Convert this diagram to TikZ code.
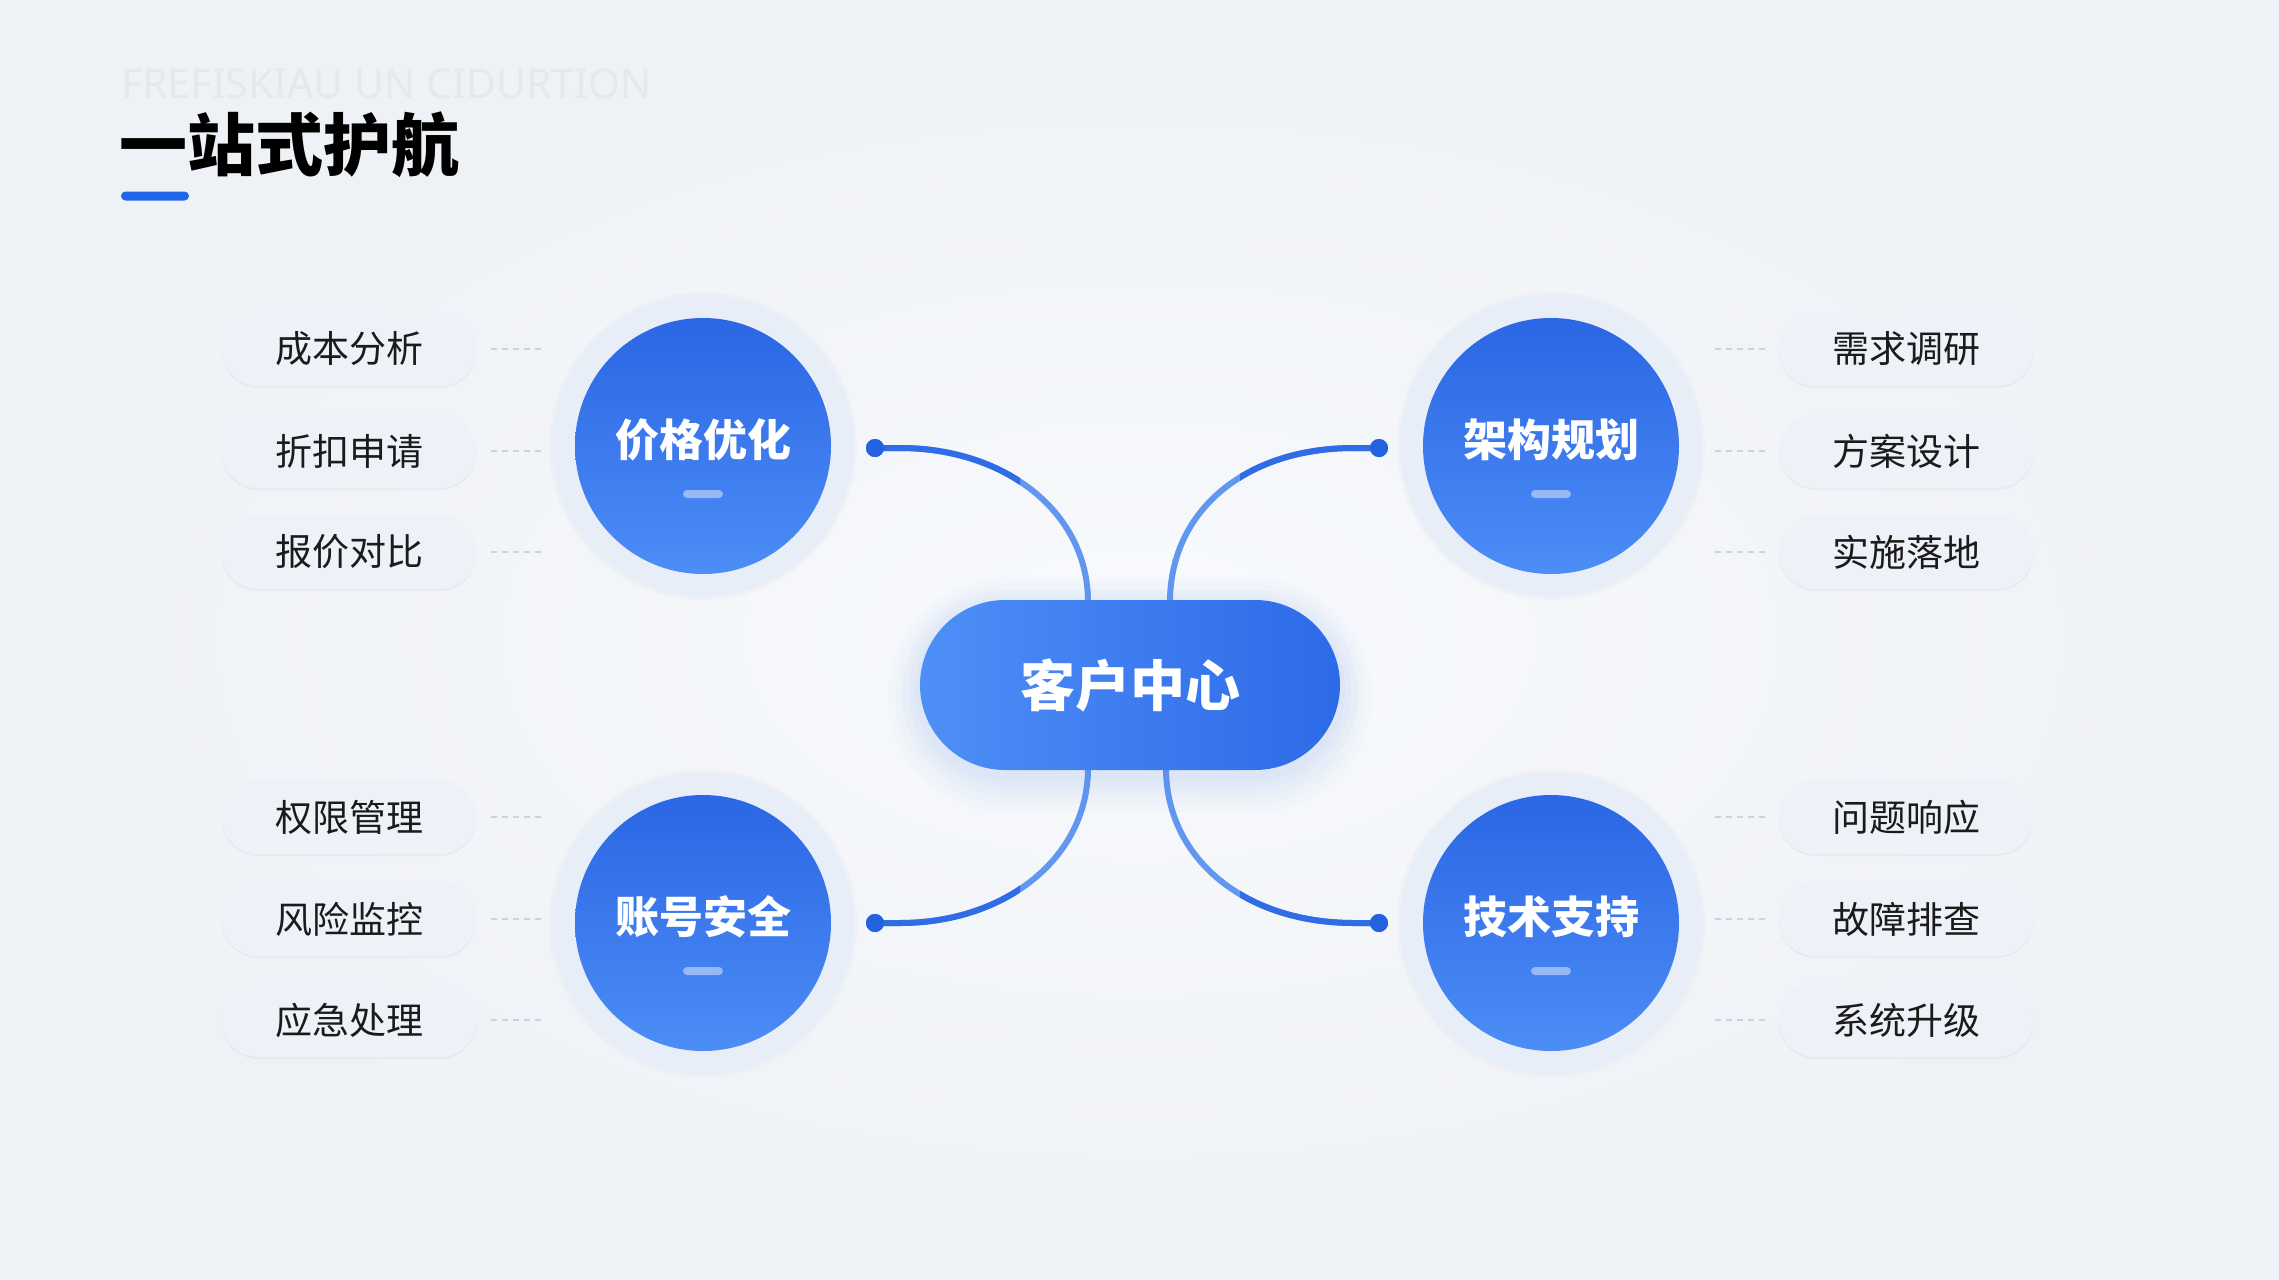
\documentclass[tikz,border=0pt]{standalone}
\usepackage{fontspec}
\setmainfont{Noto Sans CJK SC}
\newfontfamily\latinsans{Noto Sans}
\usetikzlibrary{calc}
\definecolor{bgin}{HTML}{F8FAFD}
\definecolor{bgout}{HTML}{EEF1F5}
\definecolor{hubtop}{HTML}{2B66E4}
\definecolor{hubbot}{HTML}{4C8DF6}
\definecolor{halocol}{HTML}{E8EEF8}
\definecolor{pillfill}{HTML}{EEF2F8}
\definecolor{linkdark}{HTML}{2F6CE6}
\definecolor{linklight}{HTML}{6297EF}
\definecolor{dotc}{HTML}{2463E0}
\definecolor{dashc}{HTML}{CDD3DD}
\definecolor{titlebar}{HTML}{1F66E8}
\definecolor{txt}{HTML}{1B1B1B}
\definecolor{wm}{HTML}{E5E8ED}
\definecolor{cenl}{HTML}{4E8FF7}
\definecolor{cenr}{HTML}{2C6AE8}
\begin{document}
\begin{tikzpicture}[x=1pt,y=-1pt,
  halo/.style={circle, minimum size=302pt, inner sep=0pt, fill=halocol,
    preaction={draw=halocol!70!gray, line width=6pt, draw opacity=0.10}},
  hub/.style={circle, minimum size=256pt, inner sep=0pt, top color=hubtop, bottom color=hubbot},
  hubtext/.style={text=white, inner sep=0pt, font=\fontsize{44}{50}\selectfont\bfseries},
  hubbar/.style={rectangle, rounded corners=4pt, minimum width=40pt, minimum height=8pt, inner sep=0pt, fill=white, fill opacity=0.45},
  leaf/.style={rectangle, rounded corners=37pt, minimum width=255pt, minimum height=74pt, inner sep=0pt,
    fill=pillfill, text=txt, font=\fontsize{37}{42}\selectfont,
    preaction={fill=black!20!pillfill, opacity=0.18, transform canvas={yshift=-2pt}}},
  dashline/.style={draw=dashc, line width=2.5pt, dash pattern=on 6pt off 5pt},
  linkA/.style={draw=linkdark, line width=6pt},
  linkB/.style={draw=linklight, line width=6pt},
  dotnode/.style={circle, fill=dotc, minimum size=18pt, inner sep=0pt},
  centerpill/.style={rectangle, rounded corners=85pt, minimum width=420pt, minimum height=170pt, inner sep=0pt,
    left color=cenl, right color=cenr, text=white, font=\fontsize{55}{62}\selectfont\bfseries,
    preaction={draw=hubbot, line width=64pt, draw opacity=0.02, transform canvas={yshift=-10pt}},
    preaction={draw=hubbot, line width=50pt, draw opacity=0.025, transform canvas={yshift=-9pt}},
    preaction={draw=hubbot, line width=36pt, draw opacity=0.03, transform canvas={yshift=-8pt}},
    preaction={draw=hubbot, line width=22pt, draw opacity=0.035, transform canvas={yshift=-7pt}},
    preaction={draw=hubbot, line width=10pt, draw opacity=0.04, transform canvas={yshift=-6pt}}}
]
\useasboundingbox (0,0) rectangle (2279,1280);
\fill[inner color=bgin, outer color=bgout] (0,0) rectangle (2279,1280);

% title
\node[anchor=west, inner sep=0pt, text=wm, font=\latinsans\fontsize{41}{46}\selectfont\bfseries] (wmark) at (121,84) {FREFISKIAU UN CIDURTION};
\node[anchor=west, inner sep=0pt, text=black, font=\fontsize{68}{76}\selectfont\bfseries] (title) at (119,145) {一站式护航};
\node[rectangle, rounded corners=4.5pt, minimum width=68pt, minimum height=9pt, inner sep=0pt, fill=titlebar] (tbar) at (155,196) {};

% endpoints on the center pill
\coordinate (ct1) at (1088,602);
\coordinate (ct2) at (1170,602);
\coordinate (cb1) at (1088,768);
\coordinate (cb2) at (1166,768);

% dots
\node[dotnode] (d1) at (875,448) {};
\node[dotnode] (d2) at (1379,448) {};
\node[dotnode] (d3) at (875,923) {};
\node[dotnode] (d4) at (1379,923) {};

% connectors (dark half near the dot, lighter half near the pill)
\draw[linkB] (d1.center) -- ++(25,0) .. controls +(105,0) and +(0,-90) .. (ct1);
\draw[linkB] (d2.center) -- ++(-25,0) .. controls +(-110,0) and +(0,-90) .. (ct2);
\draw[linkB] (d3.center) -- ++(25,0) .. controls +(105,0) and +(0,90) .. (cb1);
\draw[linkB] (d4.center) -- ++(-25,0) .. controls +(-110,0) and +(0,90) .. (cb2);
\begin{scope}
\clip (0,0) rectangle (1020,1280);
\draw[linkA] (d1.center) -- ++(25,0) .. controls +(105,0) and +(0,-90) .. (ct1);
\draw[linkA] (d3.center) -- ++(25,0) .. controls +(105,0) and +(0,90) .. (cb1);
\end{scope}
\begin{scope}
\clip (1240,0) rectangle (2279,1280);
\draw[linkA] (d2.center) -- ++(-25,0) .. controls +(-110,0) and +(0,-90) .. (ct2);
\draw[linkA] (d4.center) -- ++(-25,0) .. controls +(-110,0) and +(0,90) .. (cb2);
\end{scope}
\node[dotnode] at (d1) {};
\node[dotnode] at (d2) {};
\node[dotnode] at (d3) {};
\node[dotnode] at (d4) {};

% halos and hubs
\node[halo] (haloP) at (703,446) {};
\node[halo] (haloA) at (1551,446) {};
\node[halo] (haloS) at (703,923) {};
\node[halo] (haloT) at (1551,923) {};
\node[hub] (hubP) at (haloP) {};
\node[hub] (hubA) at (haloA) {};
\node[hub] (hubS) at (haloS) {};
\node[hub] (hubT) at (haloT) {};
\node[hubtext] (tP) at (703,440) {价格优化};
\node[hubtext] (tA) at (1551,440) {架构规划};
\node[hubtext] (tS) at (703,917) {账号安全};
\node[hubtext] (tT) at (1551,917) {技术支持};
\node[hubbar] (bP) at (703,494) {};
\node[hubbar] (bA) at (1551,494) {};
\node[hubbar] (bS) at (703,971) {};
\node[hubbar] (bT) at (1551,971) {};

% center
\node[centerpill] (center) at (1130,685) {客户中心};

% leaves left
\node[leaf] (l1) at (349,349) {成本分析};
\node[leaf] (l2) at (349,451) {折扣申请};
\node[leaf] (l3) at (349,552) {报价对比};
\node[leaf] (l4) at (349,817) {权限管理};
\node[leaf] (l5) at (349,919) {风险监控};
\node[leaf] (l6) at (349,1020) {应急处理};
% leaves right
\node[leaf] (r1) at (1906,349) {需求调研};
\node[leaf] (r2) at (1906,451) {方案设计};
\node[leaf] (r3) at (1906,552) {实施落地};
\node[leaf] (r4) at (1906,817) {问题响应};
\node[leaf] (r5) at (1906,919) {故障排查};
\node[leaf] (r6) at (1906,1020) {系统升级};

% dashed ties
\foreach \n in {l1,l2,l3,l4,l5,l6}{
  \draw[dashline] ([xshift=14pt]\n.east) -- ([xshift=66pt]\n.east);
}
\foreach \n in {r1,r2,r3,r4,r5,r6}{
  \draw[dashline] ([xshift=-13pt]\n.west) -- ([xshift=-66pt]\n.west);
}
\end{tikzpicture}
\end{document}
